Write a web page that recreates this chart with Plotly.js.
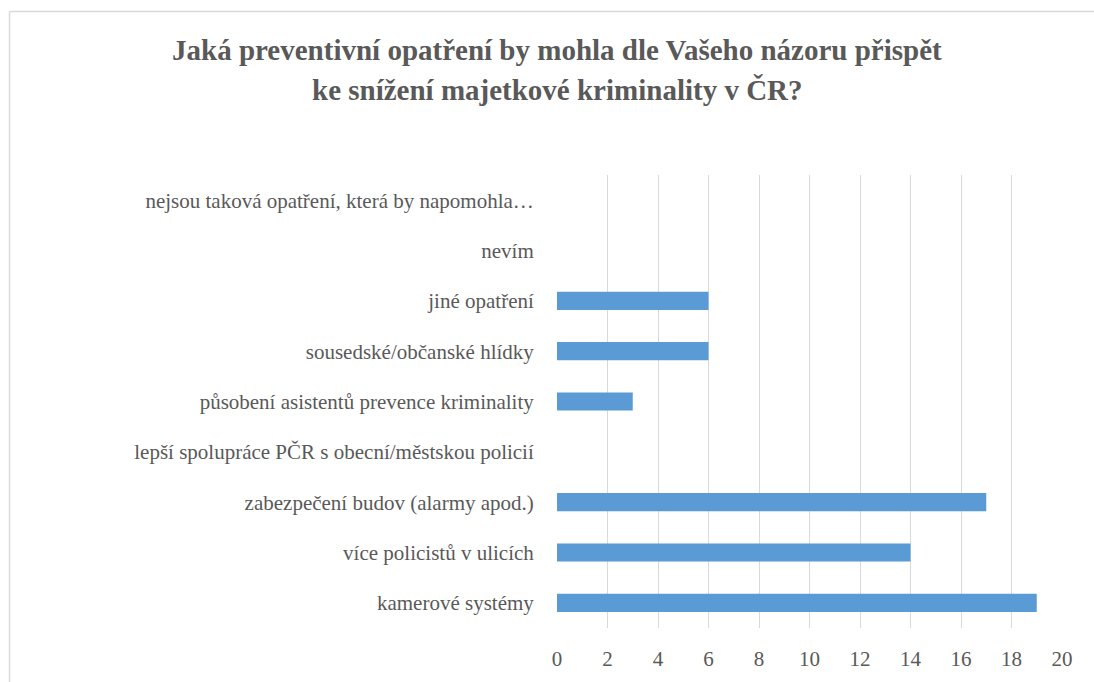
<!DOCTYPE html>
<html>
<head>
<meta charset="utf-8">
<script src="https://cdn.plot.ly/plotly-3.0.1.min.js"></script>
<style>
html,body{margin:0;padding:0;background:#fff;}
#chart text { font-family: "Liberation Serif", "Times New Roman", "DejaVu Serif", serif !important; }
</style>
</head>
<body>
<div id="chart"></div>
<script>
const categories = [
  "kamerové systémy",
  "více policistů v ulicích",
  "zabezpečení budov (alarmy apod.)",
  "lepší spolupráce PČR s obecní/městskou policií",
  "působení asistentů prevence kriminality",
  "sousedské/občanské hlídky",
  "jiné opatření",
  "nevím",
  "nejsou taková opatření, která by napomohla…"
];
const values = [19, 14, 17, 0, 3, 6, 6, 0, 0];
const xTicks = [0, 2, 4, 6, 8, 10, 12, 14, 16, 18, 20];
const titleLines = [
  "Jaká preventivní opatření by mohla dle Vašeho názoru přispět",
  "ke snížení majetkové kriminality v ČR?"
];

const serif = "Liberation Serif";
const grey = "#595959";

// plot area geometry (pixels)
const L = 556.5, R = 1062, T = 175, B = 628, W = 1094, H = 682;
const px = x => (x - L) / (R - L);
const py = y => (B - y) / (B - T);

const data = [{
  type: "bar",
  orientation: "h",
  x: values,
  y: categories,
  marker: {color: "#5B9BD5"},
  hoverinfo: "x+y"
}];

const layout = {
  width: W, height: H,
  margin: {l: L, r: W - R, t: T, b: H - B, pad: 0},
  paper_bgcolor: "#fff",
  plot_bgcolor: "#fff",
  bargap: 0.64,
  showlegend: false,
  xaxis: {
    range: [0, 20],
    tickvals: xTicks,
    ticktext: xTicks.map(String),
    showgrid: true, gridcolor: "#d9d9d9", gridwidth: 1,
    zeroline: false, showline: false,
    ticks: "outside", ticklen: 12, tickcolor: "rgba(0,0,0,0)",
    tickfont: {family: serif, size: 21, color: grey},
    fixedrange: true
  },
  yaxis: {
    type: "category",
    categoryorder: "array", categoryarray: categories,
    showgrid: false, zeroline: false, showline: false,
    ticks: "outside", ticklen: 18, tickcolor: "rgba(0,0,0,0)",
    tickfont: {family: serif, size: 21, color: grey},
    fixedrange: true
  },
  annotations: titleLines.map((t, i) => ({
    text: "<b>" + t + "</b>",
    xref: "paper", yref: "paper",
    x: px(557), y: py(50 + 40 * i),
    xanchor: "center", yanchor: "middle",
    showarrow: false,
    font: {family: serif, size: 29, color: grey}
  })),
  shapes: [
    {type: "line", xref: "paper", yref: "paper", x0: px(8.5), x1: px(8.5), y0: py(11.5), y1: py(700), line: {color: "#d9d9d9", width: 1.5}},
    {type: "line", xref: "paper", yref: "paper", x0: px(8.5), x1: px(1100), y0: py(11.5), y1: py(11.5), line: {color: "#d9d9d9", width: 1.5}}
  ]
};

Plotly.newPlot("chart", data, layout, {displayModeBar: false, staticPlot: true});
</script>
</body>
</html>
